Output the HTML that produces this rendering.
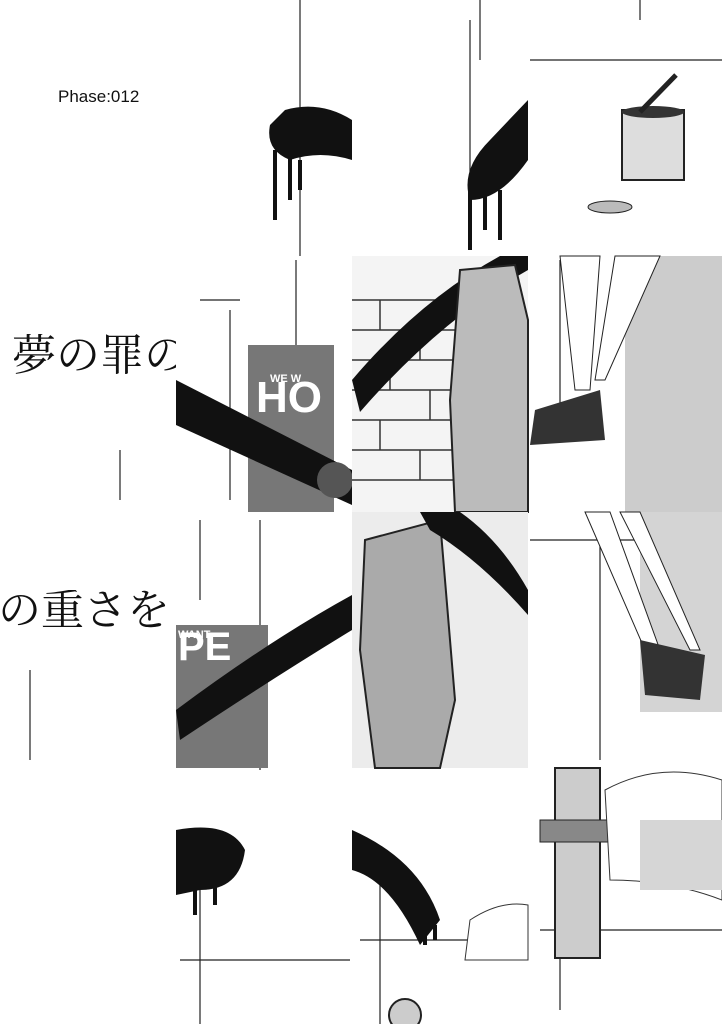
<!DOCTYPE html>
<html><head><meta charset="utf-8"><style>
html,body{margin:0;padding:0;background:#fff}
#c{position:relative;width:722px;height:1024px;overflow:hidden;background:#fff}
.t{position:absolute;font-family:"Liberation Serif","Noto Serif CJK SC","Noto Sans CJK JP",serif;color:#111;line-height:1}
</style></head><body><div id="c">
<svg width="722" height="1024" style="position:absolute;left:0;top:0">
<g fill="none" stroke="#222" stroke-width="1.2">
<path d="M300 0V256M296 260V512M480 0V60M470 20V250M560 260V420M600 530V760M260 520V770M560 780V1010M200 870V1024M380 860V1024"/>
<path d="M200 300H240M230 310V500M180 960H350M360 940H520M530 60H722M530 540H722M540 930H722"/>
<path d="M120 450V500M30 670V760M200 520V600M640 0V20"/>
</g>
<path d="M285 110 Q320 100 352 120 L352 160 Q320 150 290 160 Q265 150 270 125Z" fill="#111"/>
<path d="M275 150V220M290 155V200M300 160V190" stroke="#111" stroke-width="4"/>
<path d="M528 100 L528 160 Q500 200 470 200 Q460 170 490 140Z" fill="#111"/>
<path d="M470 190V250M485 195V230M500 190V240" stroke="#111" stroke-width="4"/>
<rect x="622" y="110" width="62" height="70" fill="#ddd" stroke="#222" stroke-width="2"/>
<ellipse cx="653" cy="112" rx="31" ry="6" fill="#333"/>
<path d="M640 112 L676 75" stroke="#222" stroke-width="5"/>
<ellipse cx="610" cy="207" rx="22" ry="6" fill="#bbb" stroke="#222"/>
<rect x="248" y="345" width="86" height="167" fill="#777"/>
<text x="256" y="412" font-family="Liberation Sans" font-weight="bold" font-size="44" fill="#fff">HO</text>
<text x="270" y="382" font-family="Liberation Sans" font-weight="bold" font-size="11" fill="#fff">WE W</text>
<path d="M176 380 L352 470 L352 505 L176 425Z" fill="#111"/>
<circle cx="335" cy="480" r="18" fill="#555"/>
<rect x="352" y="256" width="176" height="256" fill="#f4f4f4"/>
<g stroke="#333" stroke-width="1.5" fill="none">
<path d="M352 300H460M352 330H460M352 360H460M352 390H460M352 420H460M352 450H460M352 480H460M380 300V330M420 330V360M390 360V390M430 390V420M380 420V450M420 450V480"/>
</g>
<path d="M352 380 Q420 300 500 256 L528 256 L528 270 Q440 320 360 412Z" fill="#111"/>
<path d="M460 270 L515 265 L528 320 L528 512 L455 512 L450 400Z" fill="#bbb" stroke="#222" stroke-width="2"/>
<rect x="625" y="256" width="97" height="256" fill="#ccc"/>
<path d="M560 256 L600 256 L590 390 L575 390Z M615 256 L660 256 L605 380 L595 380Z" fill="#fff" stroke="#222"/>
<path d="M535 410 L600 390 L605 440 L530 445Z" fill="#333"/>
<rect x="176" y="625" width="92" height="143" fill="#777"/>
<text x="178" y="660" font-family="Liberation Sans" font-weight="bold" font-size="40" fill="#fff">PE</text>
<text x="178" y="638" font-family="Liberation Sans" font-weight="bold" font-size="11" fill="#fff">WANT</text>
<path d="M176 710 Q270 640 352 595 L352 630 Q270 680 180 740Z" fill="#111"/>
<rect x="352" y="512" width="176" height="256" fill="#ececec"/>
<path d="M365 540 L440 520 L455 700 L440 768 L375 768 L360 650Z" fill="#aaa" stroke="#222" stroke-width="2"/>
<path d="M420 512 L460 512 Q500 540 528 590 L528 615 Q480 560 430 530Z" fill="#111"/>
<rect x="640" y="512" width="82" height="200" fill="#d4d4d4"/>
<path d="M585 512 L610 512 L660 650 L645 650Z M620 512 L640 512 L700 650 L690 650Z" fill="#fff" stroke="#222"/>
<path d="M640 640 L705 655 L700 700 L645 695Z" fill="#333"/>
<path d="M176 830 Q230 820 245 850 Q240 890 200 890 L176 895Z" fill="#111"/>
<path d="M195 885V915M215 880V905" stroke="#111" stroke-width="4"/>
<path d="M352 830 Q420 860 440 920 L420 945 Q390 880 352 870Z" fill="#111"/>
<path d="M425 930V945M435 925V940" stroke="#111" stroke-width="4"/>
<path d="M470 920 Q500 900 528 905 L528 960 L465 960Z" fill="#fff" stroke="#333"/>
<rect x="555" y="768" width="45" height="190" fill="#ccc" stroke="#222" stroke-width="2"/>
<rect x="540" y="820" width="75" height="22" fill="#888" stroke="#222"/>
<path d="M605 790 Q660 760 722 780 L722 900 Q670 880 610 880Z" fill="#fff" stroke="#333"/>
<rect x="640" y="820" width="82" height="70" fill="#d6d6d6"/>
<circle cx="405" cy="1015" r="16" fill="#ccc" stroke="#222" stroke-width="2"/>
</svg>
<div class="t" style="left:58px;top:88px;font-family:'Liberation Sans',sans-serif;font-size:17px">Phase:012</div>
<div class="t" style="left:12px;top:334px;font-size:44px;white-space:nowrap;width:164px;overflow:hidden">夢の罪の</div>
<div class="t" style="left:-10px;top:590px;font-size:43px;white-space:nowrap;width:180px;overflow:hidden;text-align:right">の重さを</div>
</div></body></html>
